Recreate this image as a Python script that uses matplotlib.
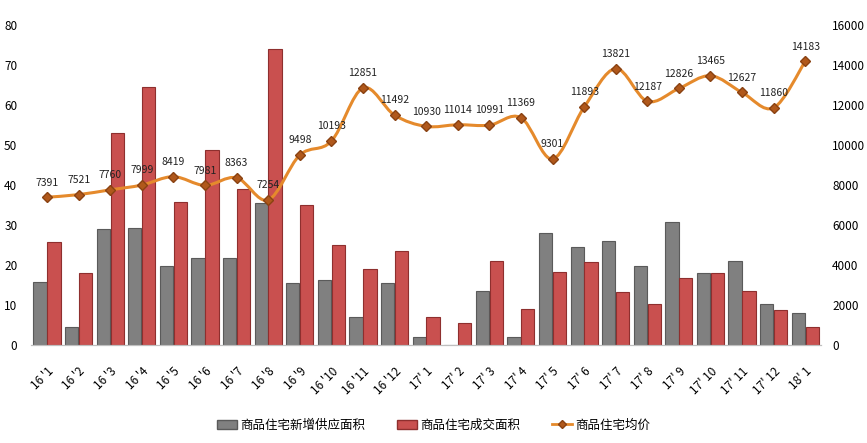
import numpy as np
import matplotlib.pyplot as plt
from matplotlib.path import Path
from matplotlib.patches import PathPatch, Patch
from matplotlib.lines import Line2D

plt.rcParams['font.family'] = ['Noto Sans CJK SC', 'DejaVu Sans']

# 数据
months = ["16 '1", "16 '2", "16 '3", "16 '4", "16 '5", "16 '6", "16 '7", "16 '8",
          "16 '9", "16 '10", "16 '11", "16 '12",
          "17' 1", "17' 2", "17' 3", "17' 4", "17' 5", "17' 6", "17' 7", "17' 8",
          "17' 9", "17' 10", "17' 11", "17' 12", "18' 1"]
supply = [15.8, 4.6, 29.0, 29.3, 19.8, 21.8, 21.8, 35.5, 15.6, 16.2, 7.0, 15.5,
          2.0, 0.0, 13.5, 2.0, 28.0, 24.5, 26.0, 19.7, 30.7, 18.0, 21.0, 10.2, 8.0]
deal = [25.7, 18.0, 53.0, 64.5, 35.8, 48.7, 39.1, 74.0, 35.1, 25.0, 19.0, 23.5,
        7.0, 5.5, 21.0, 9.0, 18.3, 20.8, 13.2, 10.3, 16.8, 17.9, 13.6, 8.7, 4.4]
price = [7391, 7521, 7760, 7999, 8419, 7981, 8363, 7254, 9498, 10193, 12851, 11492,
         10930, 11014, 10991, 11369, 9301, 11893, 13821, 12187, 12826, 13465, 12627,
         11860, 14183]

names = ['商品住宅新增供应面积', '商品住宅成交面积', '商品住宅均价']

x = np.arange(len(months))
w = 0.42

fig = plt.figure(figsize=(8.67, 4.43), dpi=100)
ax = fig.add_axes([0.036, 0.221, 0.911, 0.7226])
ax2 = ax.twinx()

ax.bar(x - w/2 - 0.01, supply, w, color='#808080', edgecolor='#5a5a5a', linewidth=0.8)
ax.bar(x + w/2 + 0.01, deal, w, color='#c9504f', edgecolor='#8e2f2e', linewidth=0.8)

# 平滑曲线 (Excel 风格)
pts = np.column_stack([x, price]).astype(float)
verts = [pts[0]]
codes = [Path.MOVETO]
n = len(pts)
for i in range(n - 1):
    p0 = pts[i - 1] if i > 0 else pts[i]
    p1 = pts[i]
    p2 = pts[i + 1]
    p3 = pts[i + 2] if i + 2 < n else pts[i + 1]
    c1 = p1 + (p2 - p0) / 6
    c2 = p2 - (p3 - p1) / 6
    verts += [c1, c2, p2]
    codes += [Path.CURVE4] * 3
ax2.add_patch(PathPatch(Path(verts, codes), facecolor='none', edgecolor='#e58a2c', lw=2.2, zorder=3))
ax2.plot(x, price, linestyle='none', marker='D', ms=5, color='#b0581b',
         markeredgecolor='#8a4212', zorder=4)
for xi, p in zip(x, price):
    ax2.annotate(str(p), (xi, p), xytext=(0, 7), textcoords='offset points',
                 ha='center', va='bottom', fontsize=7.5, color='#222222')

ax.set_xlim(-0.5, len(months) - 0.5)
ax.set_ylim(0, 80)
ax2.set_ylim(0, 16000)
ax.set_yticks(range(0, 81, 10))
ax2.set_yticks(range(0, 16001, 2000))

ax.set_xticks(x)
ax.set_xticklabels(months, rotation=45, ha='right', rotation_mode='anchor', fontsize=8.5)
ax.tick_params(axis='x', length=0, pad=14)
ax.tick_params(axis='y', length=0, labelsize=8.5, pad=10)
ax2.tick_params(axis='y', length=0, labelsize=8.5, pad=8)

for a in (ax, ax2):
    for s in ('top', 'left', 'right'):
        a.spines[s].set_visible(False)
    a.spines['bottom'].set_color('#bfbfbf')

handles = [Patch(facecolor='#808080', edgecolor='#5a5a5a'),
           Patch(facecolor='#c9504f', edgecolor='#8e2f2e'),
           Line2D([], [], color='#e58a2c', lw=2, marker='D', ms=4,
                  markerfacecolor='#b0581b', markeredgecolor='#8a4212')]
fig.legend(handles, names, loc='center', bbox_to_anchor=(0.5, 0.04), ncol=3,
           frameon=False, fontsize=9, handlelength=1.6, handletextpad=0.3,
           columnspacing=2.5)

fig.savefig('out.png', dpi=100)
